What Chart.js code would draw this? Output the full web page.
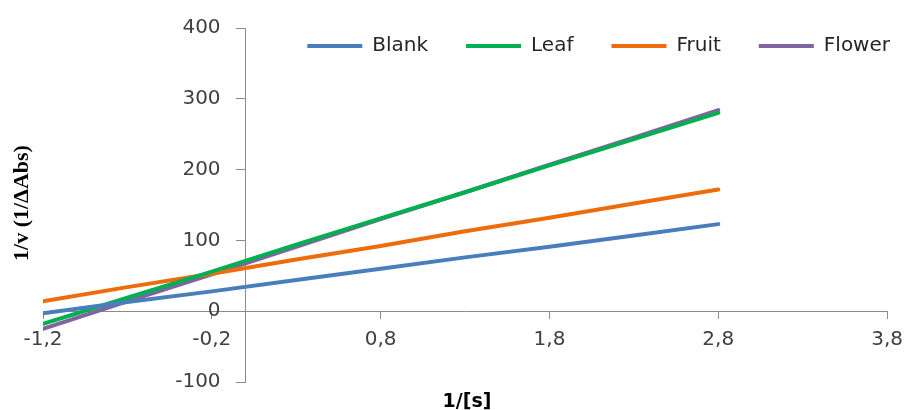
<!DOCTYPE html>
<html>
<head>
<meta charset="utf-8">
<script src="https://cdn.jsdelivr.net/npm/chart.js@4.4.1/dist/chart.umd.min.js"></script>
<style>
  html, body { margin: 0; padding: 0; background: #ffffff; }
  #wrap { position: relative; width: 913px; height: 410px; }
</style>
</head>
<body>
<div id="wrap"><canvas id="c"></canvas></div>
<script>
// ---- data ----
const xValues = [-1.2, -0.7, -0.2, 0.3, 0.8, 1.3, 1.8, 2.3, 2.8];
const seriesNames = ['Blank', 'Leaf', 'Fruit', 'Flower'];
const blankValues  = [-3, 13, 28, 44, 60, 76, 91, 107, 123];
const leafValues   = [-18, 19, 56, 94, 131, 168, 206, 243, 280];
const fruitValues  = [14, 34, 53, 73, 92, 113, 132, 152, 172];
const flowerValues = [-25, 14, 52, 91, 130, 168, 207, 245, 284];
const xTicks = [-1.2, -0.2, 0.8, 1.8, 2.8, 3.8];
const yTicks = [-100, 0, 100, 200, 300, 400];
const xTitle = '1/[s]';
const yTitle = '1/v (1/\u0394Abs)';

const seriesValues = [blankValues, leafValues, fruitValues, flowerValues];
const seriesColors = ['#4A7EBB', '#00B050', '#EE6C0B', '#8064A2'];

const datasets = seriesNames.map((name, i) => ({
  label: name,
  data: xValues.map((x, j) => ({ x: x, y: seriesValues[i][j] })),
  borderColor: seriesColors[i],
  backgroundColor: seriesColors[i],
  borderWidth: 4,
  borderCapStyle: 'round',
  pointRadius: 0,
  pointHoverRadius: 0,
  showLine: true,
  tension: 0,
  fill: false
}));

const tickFont = { family: 'DejaVu Sans', size: 20 };
const axisColor = '#8C8C8C';
const textColor = '#404040';

// legend overlaps the top of the plot, right-aligned
const legendShift = {
  id: 'legendShift',
  afterLayout(chart) {
    const lg = chart.legend;
    if (!lg) return;
    lg.left += 35; lg.right += 35;
    lg.bottom = lg.top + 90;
  }
};

// y tick labels of an axis placed at x = 0 need a gap from the axis line
const yLabelGap = {
  id: 'yLabelGap',
  beforeDraw(chart) {
    const s = chart.scales.y;
    const items = s.getLabelItems(chart.chartArea);
    if (!items._shifted) {
      items.forEach(it => { it.options.translation[0] -= 25; });
      items._shifted = true;
    }
  }
};

const axisTitles = {
  id: 'axisTitles',
  afterDraw(chart) {
    const ctx = chart.ctx;
    ctx.save();
    ctx.fillStyle = '#000000';
    ctx.textAlign = 'center';
    ctx.textBaseline = 'middle';
    ctx.font = 'bold 19px "DejaVu Sans"';
    ctx.fillText(xTitle, 467, 402);
    ctx.translate(22, 203);
    ctx.rotate(-Math.PI / 2);
    ctx.font = 'bold 22px "Liberation Serif"';
    ctx.fillText(yTitle, 0, 0);
    ctx.restore();
  }
};

new Chart(document.getElementById('c'), {
  type: 'scatter',
  data: { datasets: datasets },
  plugins: [legendShift, yLabelGap, axisTitles],
  options: {
    responsive: true,
    maintainAspectRatio: false,
    animation: false,
    layout: { padding: { left: 43, right: 20, top: -6, bottom: 28 } },
    plugins: {
      legend: {
        position: 'top',
        align: 'end',
        maxHeight: 30,
        labels: {
          usePointStyle: true,
          pointStyle: 'line',
          pointStyleWidth: 55,
          padding: 38,
          color: '#262626',
          font: { family: 'DejaVu Sans', size: 20 }
        }
      },
      tooltip: { enabled: false }
    },
    scales: {
      x: {
        type: 'linear',
        position: { y: 0 },
        min: -1.2,
        max: 3.8,
        afterBuildTicks: (scale) => { scale.ticks = xTicks.map(v => ({ value: v })); },
        ticks: {
          autoSkip: false,
          maxRotation: 0,
          padding: 10,
          color: textColor,
          font: tickFont,
          callback: (v) => String(v).replace('.', ',')
        },
        grid: { drawOnChartArea: false, drawTicks: true, tickLength: 7, color: axisColor },
        border: { display: true, color: axisColor, width: 1 }
      },
      y: {
        type: 'linear',
        position: { x: 0 },
        min: -100,
        max: 400,
        afterBuildTicks: (scale) => { scale.ticks = yTicks.map(v => ({ value: v })); },
        ticks: {
          autoSkip: false,
          padding: 16,
          color: textColor,
          font: tickFont,
          callback: (v) => String(v)
        },
        grid: { drawOnChartArea: false, drawTicks: true, tickLength: 9, color: axisColor },
        border: { display: true, color: axisColor, width: 1 }
      }
    }
  }
});
</script>
</body>
</html>
